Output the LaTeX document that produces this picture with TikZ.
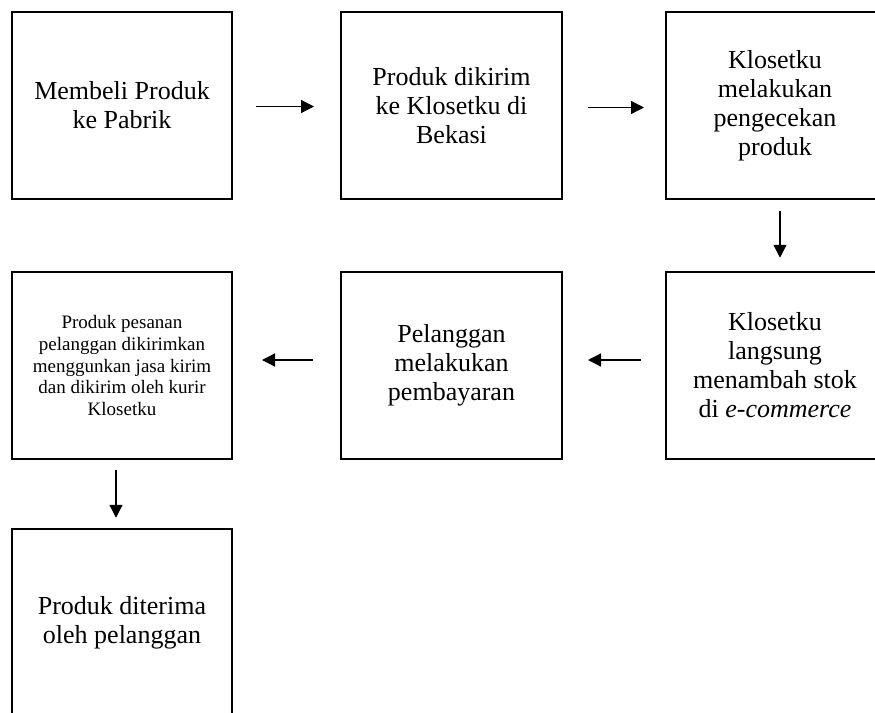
\documentclass[tikz,border=0pt]{standalone}
\usepackage{fontspec}
\setmainfont{Liberation Serif}
\usetikzlibrary{arrows.meta}

\begin{document}
\begin{tikzpicture}[x=0.5pt, y=0.5pt]
	\tikzstyle{every node}+=[inner sep=0pt]
	\tikzstyle{box}=[draw=black, line width=1pt, align=center, minimum height=93.75pt, font=\fontsize{13}{14.5}\selectfont]
	\tikzstyle{arr}=[black, line width=0.65pt, -{Triangle[length=6.5pt, width=6.5pt]}]
	\useasboundingbox (0,0) rectangle (875,-713);
	\clip (0,0) rectangle (875,-713);
	\node [box, minimum width=110pt] (beli) at (122,-105.5) {Membeli Produk\\ke Pabrik};
	\node [box, minimum width=110.5pt] (kirim) at (451.5,-105.5) {Produk dikirim\\ke Klosetku di\\Bekasi};
	\node [box, minimum width=109pt] (cek) at (775,-105.5) {Klosetku\\melakukan\\pengecekan\\produk};
	\node [box, minimum width=109pt] (stok) at (775,-365.5) {Klosetku\\langsung\\menambah stok\\di \textit{e-commerce}};
	\node [box, minimum width=110.5pt] (bayar) at (451.5,-365.5) {Pelanggan\\melakukan\\pembayaran};
	\node [box, minimum width=110pt, font=\fontsize{9.5}{10.85}\selectfont] (kurir) at (122,-365.5) {Produk pesanan\\pelanggan dikirimkan\\menggunkan jasa kirim\\dan dikirim oleh kurir\\Klosetku};
	\node [box, minimum width=110pt] (terima) at (122,-622.5) {Produk diterima\\oleh pelanggan};
	\draw [arr, shorten <=11.5pt, shorten >=13pt] ([yshift=-0.5pt]beli.east) -- ([yshift=-0.5pt]kirim.west);
	\draw [arr, shorten <=12.5pt, shorten >=10.5pt] ([yshift=-1pt]kirim.east) -- ([yshift=-1pt]cek.west);
	\draw [arr, shorten <=5.5pt, shorten >=6.5pt] ([xshift=2.5pt]cek.south) -- ([xshift=2.5pt]stok.north);
	\draw [arr, shorten <=12pt, shorten >=12.5pt] ([yshift=2.75pt]stok.west) -- ([yshift=2.75pt]bayar.east);
	\draw [arr, shorten <=13.5pt, shorten >=14.5pt] ([yshift=2.75pt]bayar.west) -- ([yshift=2.75pt]kurir.east);
	\draw [arr, shorten <=5pt, shorten >=5pt] ([xshift=-3pt]kurir.south) -- ([xshift=-3pt]terima.north);
\end{tikzpicture}
\end{document}
